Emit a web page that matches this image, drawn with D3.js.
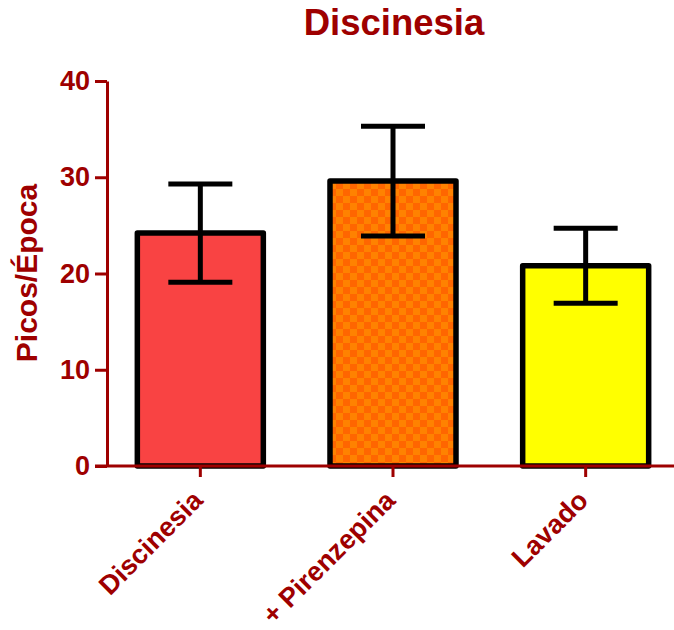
<!DOCTYPE html>
<html>
<head>
<meta charset="utf-8">
<script src="https://cdn.jsdelivr.net/npm/d3@7"></script>
<style>
  html, body { margin: 0; padding: 0; background: #fff; }
  svg { display: block; }
  text { font-family: "Liberation Sans", Arial, sans-serif; font-weight: bold; }
</style>
</head>
<body>
<svg id="chart" width="674" height="630"></svg>
<script>
// Group names, means and SEM for peaks per epoch
const categories = ["Discinesia", "+ Pirenzepina", "Lavado"];
const means = [24.2, 29.6, 20.8];
const errors = [5.1, 5.7, 3.9];
const yTicks = [0, 10, 20, 30, 40];
const fills = ["#F94343", "url(#checker)", "#FFFF00"];

const axisColor = "#9E0000";
const svg = d3.select("#chart");

// Two-tone orange checkerboard fill
const defs = svg.append("defs");
const pat = defs.append("pattern")
  .attr("id", "checker")
  .attr("patternUnits", "userSpaceOnUse")
  .attr("width", 14).attr("height", 14);
pat.append("rect").attr("width", 14).attr("height", 14).attr("fill", "#FF8200");
pat.append("rect").attr("x", 0).attr("y", 0).attr("width", 7).attr("height", 7).attr("fill", "#FF6600");
pat.append("rect").attr("x", 7).attr("y", 7).attr("width", 7).attr("height", 7).attr("fill", "#FF6600");

const x = d3.scaleBand()
  .domain(categories)
  .range([104, 682])
  .paddingInner(0.346)
  .paddingOuter(0.173);

const y = d3.scaleLinear().domain([0, 40]).range([466, 81]);

// Bars
const bars = svg.append("g");
bars.selectAll("rect")
  .data(categories)
  .join("rect")
  .attr("x", d => x(d))
  .attr("y", (d, i) => y(means[i]))
  .attr("width", x.bandwidth())
  .attr("height", (d, i) => y(0) - y(means[i]))
  .attr("fill", (d, i) => fills[i])
  .attr("stroke", "#000")
  .attr("stroke-width", 5.5)
  .attr("stroke-linejoin", "round");

// Error bars
const capHalf = 32;
const err = svg.append("g").attr("stroke", "#000").attr("stroke-width", 5);
categories.forEach((c, i) => {
  const cx = x(c) + x.bandwidth() / 2;
  const hi = y(means[i] + errors[i]);
  const lo = y(means[i] - errors[i]);
  err.append("line").attr("x1", cx).attr("x2", cx).attr("y1", hi).attr("y2", lo);
  err.append("line").attr("x1", cx - capHalf).attr("x2", cx + capHalf).attr("y1", hi).attr("y2", hi);
  err.append("line").attr("x1", cx - capHalf).attr("x2", cx + capHalf).attr("y1", lo).attr("y2", lo);
});

// Y axis
const yAxis = svg.append("g")
  .attr("transform", "translate(107,0)")
  .call(d3.axisLeft(y).tickValues(yTicks).tickSize(12).tickPadding(5).tickSizeOuter(0));
yAxis.select(".domain").attr("stroke", axisColor).attr("stroke-width", 3);
yAxis.selectAll(".tick line").attr("stroke", axisColor).attr("stroke-width", 3);
yAxis.selectAll(".tick text")
  .attr("fill", axisColor)
  .style("font-size", "27px")
  .style("font-family", "'Liberation Sans', Arial, sans-serif")
  .style("font-weight", "bold");

// X axis
const xAxis = svg.append("g")
  .attr("transform", "translate(0,466)")
  .call(d3.axisBottom(x).tickSize(11).tickSizeOuter(0).tickFormat(""));
xAxis.select(".domain").attr("d", "M95,0H682").attr("stroke", axisColor).attr("stroke-width", 3);
xAxis.selectAll(".tick line").attr("stroke", axisColor).attr("stroke-width", 3);

// Rotated category labels
svg.append("g").selectAll("text")
  .data(categories)
  .join("text")
  .attr("transform", d => `translate(${x(d) + x.bandwidth() / 2 + 4},502) rotate(-45)`)
  .attr("text-anchor", "end")
  .attr("fill", axisColor)
  .style("font-size", "27px")
  .text(d => d);

// Axis title
svg.append("text")
  .attr("transform", "translate(37,273) rotate(-90)")
  .attr("text-anchor", "middle")
  .attr("fill", axisColor)
  .style("font-size", "30px")
  .text("Picos/Época");

// Chart title
svg.append("text")
  .attr("x", 394)
  .attr("y", 35)
  .attr("text-anchor", "middle")
  .attr("fill", axisColor)
  .style("font-size", "36.5px")
  .text("Discinesia");
</script>
</body>
</html>
